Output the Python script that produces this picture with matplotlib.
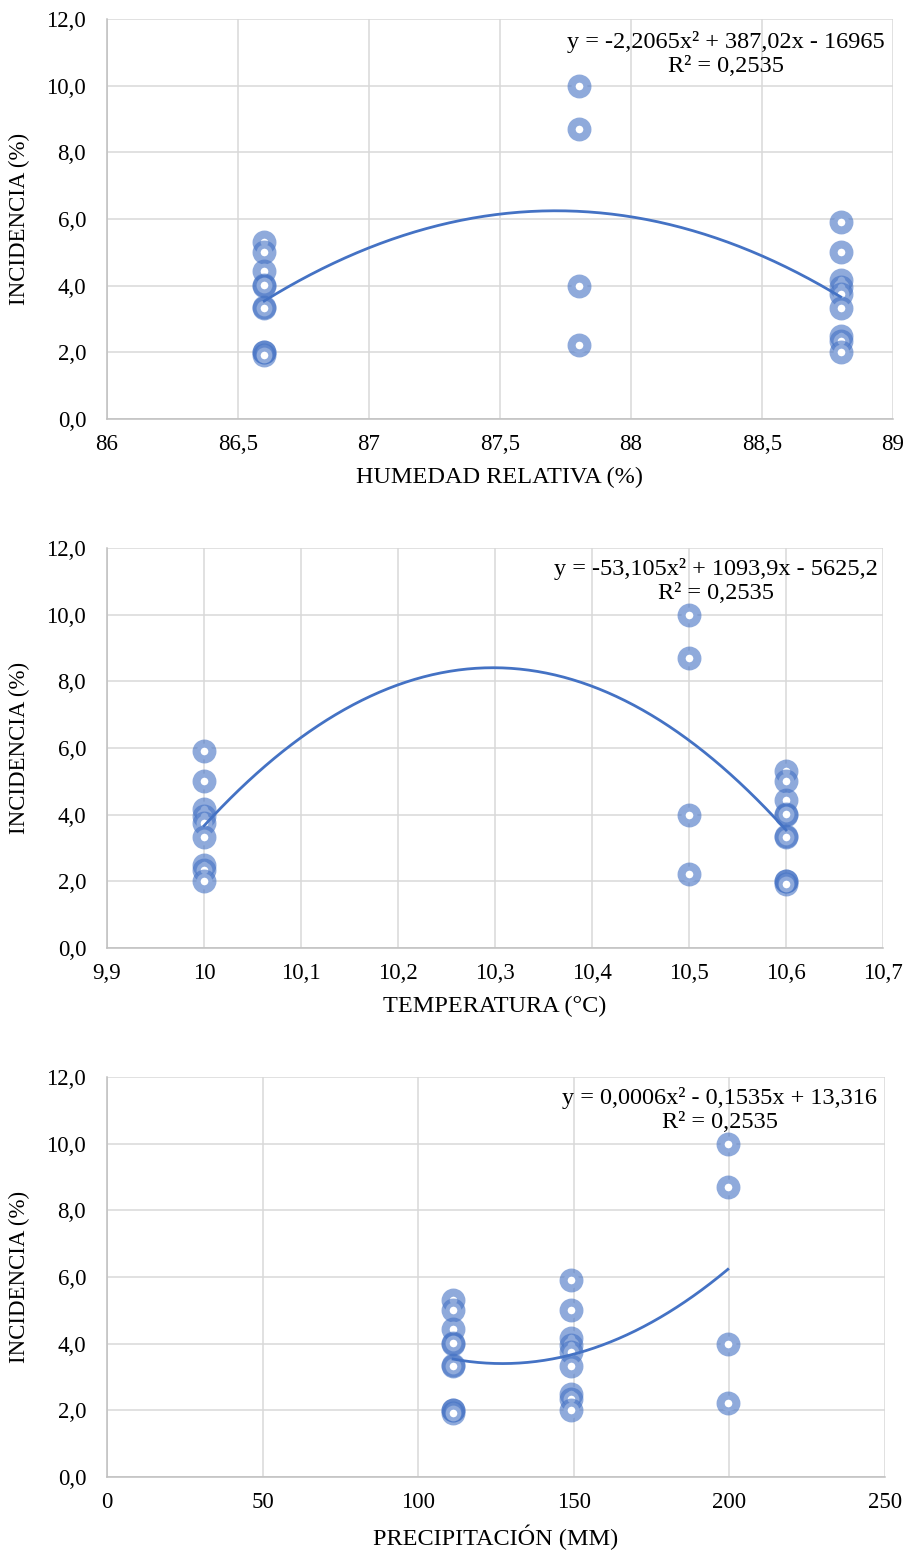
import numpy as np
import matplotlib
matplotlib.use("Agg")
import matplotlib.pyplot as plt
from matplotlib.ticker import FuncFormatter, MultipleLocator

plt.rcParams['font.family'] = ['Liberation Serif', 'DejaVu Serif']

# observations: three sampling groups (HR, temperature, precipitation share a row)
humedad = [86.6] * 10 + [88.8] * 9 + [87.8] * 4
temperatura = [10.6] * 10 + [10.0] * 9 + [10.5] * 4
precipitacion = [111.2] * 10 + [149.1] * 9 + [199.5] * 4
incidencia = [5.3, 5.0, 4.45, 4.0, 4.02, 3.35, 3.33, 2.0, 2.02, 1.92,
              5.9, 5.0, 4.17, 3.97, 3.76, 3.33, 2.5, 2.35, 2.0,
              10.0, 8.7, 4.0, 2.22]

ecuaciones = ["y = -2,2065x\u00b2 + 387,02x - 16965\nR\u00b2 = 0,2535",
              "y = -53,105x\u00b2 + 1093,9x - 5625,2\nR\u00b2 = 0,2535",
              "y = 0,0006x\u00b2 - 0,1535x + 13,316\nR\u00b2 = 0,2535"]
xlabels = ["HUMEDAD RELATIVA (%)", "TEMPERATURA (\u00b0C)", "PRECIPITACIÓN (MM)"]
xlims = [(86, 89), (9.9, 10.7), (0, 250)]
xsteps = [0.5, 0.1, 50]
xdata = [humedad, temperatura, precipitacion]

W, H = 908, 1550
boxes = [(107, 893, 19, 419), (107, 883, 548, 948), (107, 885, 1077, 1477)]
eq_pos = [(726, 31), (716, 558), (720, 1087)]

blue = '#4472C4'
ring = (68 / 255, 114 / 255, 196 / 255, 0.6)
grid = '#D9D9D9'
fs = 16.5
fs_big = 17.5


def comma(v, pos):
    s = ('%.2f' % v).rstrip('0').rstrip('.')
    return s.replace('.', ',')


fig = plt.figure(figsize=(W / 100, H / 100), dpi=100)
for i in range(3):
    l, r, t, b = boxes[i]
    ax = fig.add_axes([l / W, 1 - b / H, (r - l) / W, (b - t) / H])
    x = np.array(xdata[i])
    y = np.array(incidencia)

    ax.scatter(x, y, s=130, facecolor='white', edgecolor=ring, linewidth=5.8,
               zorder=3, clip_on=False)
    c = np.polyfit(x, y, 2)
    xs = np.linspace(x.min(), x.max(), 200)
    ax.plot(xs, np.polyval(c, xs), color=blue, lw=2.0, zorder=4)

    ax.set_xlim(*xlims[i])
    ax.set_ylim(0, 12)
    ax.xaxis.set_major_locator(MultipleLocator(xsteps[i]))
    ax.yaxis.set_major_locator(MultipleLocator(2))
    ax.xaxis.set_major_formatter(FuncFormatter(comma))
    ax.yaxis.set_major_formatter(FuncFormatter(lambda v, p: ('%.1f' % v).replace('.', ',')))
    ax.grid(True, color=grid, lw=1.1, zorder=0)
    ax.set_axisbelow(True)
    for sp in ['top', 'right']:
        ax.spines[sp].set_visible(False)
    for sp in ['left', 'bottom']:
        ax.spines[sp].set_color('#BFBFBF')
        ax.spines[sp].set_linewidth(1.1)
    ax.tick_params(axis='x', length=0, pad=11, labelsize=fs)
    ax.tick_params(axis='y', length=0, pad=15, labelsize=fs)
    ax.set_xlabel(xlabels[i], fontsize=fs_big, labelpad=8)
    ax.set_ylabel("INCIDENCIA (%)", fontsize=fs, labelpad=12)

    ex, ey = eq_pos[i]
    fig.text(ex / W, 1 - ey / H, ecuaciones[i], ha='center', va='top',
             fontsize=fs_big, linespacing=1.2)

fig.savefig("out.png", dpi=100)
